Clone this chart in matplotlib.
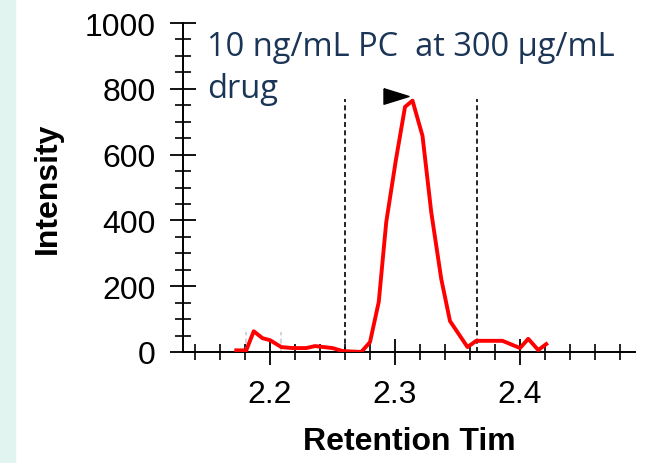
import matplotlib.pyplot as plt
from matplotlib.patches import Rectangle
from matplotlib.ticker import MultipleLocator

# Chromatogram trace
rt = [2.173, 2.181, 2.187, 2.194, 2.200, 2.209, 2.218, 2.229, 2.236, 2.250, 2.258,
      2.273, 2.280, 2.287, 2.293, 2.3006, 2.308, 2.314, 2.322, 2.329, 2.337, 2.344,
      2.358, 2.365, 2.386, 2.400, 2.4066, 2.4146, 2.421]
intensity = [5, 5, 63, 42, 36, 15, 12, 12, 18, 12, 3,
             0, 30, 152, 395, 581, 745, 764, 657, 425, 222, 94,
             15, 34, 34, 12, 40, 6, 24]

# integration window and small grey marks
window = [2.26, 2.3656]
window_top = 770
grey_marks = [2.181, 2.209]
grey_top = 60
apex = (2.3008, 778)

label_text = '10 ng/mL PC  at 300 µg/mL\ndrug'

fig = plt.figure(figsize=(6.54, 4.64), dpi=100)
fig.patches.append(Rectangle((0, 0), 15 / 654, 1, transform=fig.transFigure,
                             color='#e1f4f0', zorder=0))
ax = fig.add_axes([183 / 654, 111 / 464, 452 / 654, 329 / 464])

ax.plot(rt, intensity, color='red', linewidth=2.8, zorder=3)
for x in window:
    ax.plot([x, x], [0, window_top], color='k', linestyle=(0, (3, 2)), linewidth=1.2)
for x in grey_marks:
    ax.plot([x, x], [0, grey_top], color='#cccccc', linestyle=(0, (3, 2)), linewidth=1.2)

tri = [(-1, 0.62), (1, 0), (-1, -0.62), (-1, 0.62)]
ax.plot([apex[0]], [apex[1]], marker=tri, markersize=18, color='k', linestyle='none')

ax.text(2.1496, 978, label_text, fontsize=23.5, color='#1b3556', family='Open Sans',
        va='top', ha='left', linespacing=1.35)

ax.set_xlim(2.1304, 2.492)
ax.set_ylim(0, 1000)
ax.xaxis.set_major_locator(MultipleLocator(0.1))
ax.xaxis.set_minor_locator(MultipleLocator(0.02))
ax.yaxis.set_major_locator(MultipleLocator(200))
ax.yaxis.set_minor_locator(MultipleLocator(50))
ax.tick_params(axis='both', which='major', direction='inout', length=19, width=1.3,
               labelsize=23)
ax.tick_params(axis='x', which='major', pad=10)
ax.tick_params(axis='y', which='major', pad=10)
ax.tick_params(axis='both', which='minor', direction='inout', length=11, width=1.2)
for lab in ax.get_xticklabels() + ax.get_yticklabels():
    lab.set_family('Liberation Sans')

for s in ['top', 'right']:
    ax.spines[s].set_visible(False)
for s in ['left', 'bottom']:
    ax.spines[s].set_linewidth(1.4)

ax.set_xlabel('Retention Tim', fontsize=23, fontweight='bold', family='Liberation Sans',
              labelpad=12)
ax.set_ylabel('Intensity', fontsize=23, fontweight='bold', family='Liberation Sans',
              labelpad=16)

fig.savefig('out.png', dpi=100)
